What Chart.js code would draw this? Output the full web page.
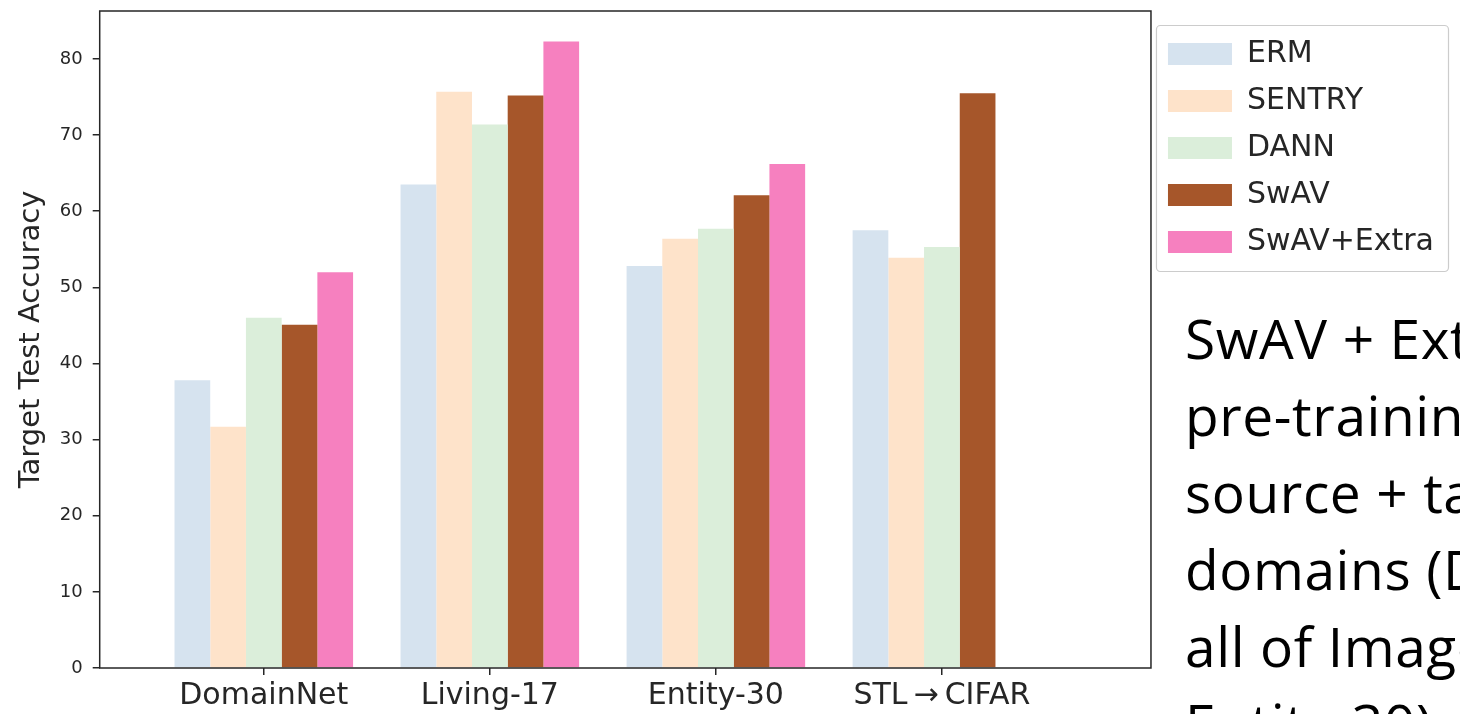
<!DOCTYPE html>
<html lang="en">
<head>
    <meta charset="UTF-8">
    <title>Target Test Accuracy</title>
    <script src="https://cdn.jsdelivr.net/npm/chart.js"></script>
    <style>
        html, body { margin: 0; padding: 0; width: 1460px; height: 714px; overflow: hidden; background: #fff; }
        #accChart { position: absolute; left: 0; top: 0; }
        #note {
            position: absolute; left: 1185px; top: 299px;
            font-family: "Open Sans", sans-serif; font-size: 55px; line-height: 77px;
            letter-spacing: 0.6px; color: #000; white-space: nowrap;
        }
    </style>
</head>
<body>
    <canvas id="accChart" width="1460" height="714"></canvas>
    <div id="note">
        <div>SwAV + Extra</div>
        <div>pre-training on</div>
        <div>source + target</div>
        <div>domains (DomainNet,</div>
        <div>all of ImageNet for</div>
        <div>Entity-30)</div>
    </div>
    <script>
        // data
        const categories = ['DomainNet', 'Living-17', 'Entity-30', 'STL\u2009\u2192\u2009CIFAR'];
        const methods = ['ERM', 'SENTRY', 'DANN', 'SwAV', 'SwAV+Extra'];
        const erm = [37.8, 63.5, 52.8, 57.5];
        const sentry = [31.7, 75.7, 56.4, 53.9];
        const dann = [46.0, 71.4, 57.7, 55.3];
        const swav = [45.1, 75.2, 62.1, 75.5];
        const swavExtra = [52.0, 82.3, 66.2, null];

        const colors = ['#d6e3ef', '#fee3ca', '#dbeeda', '#a6562a', '#f680bf'];
        const series = [erm, sentry, dann, swav, swavExtra];

        const datasets = series.map((vals, k) => ({
            label: methods[k],
            backgroundColor: colors[k],
            borderWidth: 0,
            data: vals.map((v, i) => ({ x: i, y: v }))
        }));

        // frame round the plot and round the legend
        const framePlugin = {
            id: 'frame',
            afterDraw(chart) {
                const { ctx, chartArea: a } = chart;
                ctx.save();
                ctx.strokeStyle = '#262626';
                ctx.lineWidth = 1.5;
                ctx.strokeRect(a.left, a.top, a.right - a.left, a.bottom - a.top);

                const boxes = chart.legend.legendHitBoxes;
                if (boxes && boxes.length) {
                    const l = Math.min(...boxes.map(b => b.left)) - 12;
                    const t = Math.min(...boxes.map(b => b.top)) - 14;
                    const r = Math.max(...boxes.map(b => b.left + b.width)) + 14;
                    const bt = Math.max(...boxes.map(b => b.top + b.height)) + 14;
                    ctx.strokeStyle = '#cccccc';
                    ctx.lineWidth = 1.2;
                    ctx.beginPath();
                    ctx.roundRect(l + 0.5, t + 0.5, r - l, bt - t, 4);
                    ctx.stroke();
                }
                ctx.restore();
            }
        };

        const config = {
            type: 'bar',
            data: { datasets: datasets },
            options: {
                responsive: false,
                animation: false,
                devicePixelRatio: 1,
                layout: { padding: { top: 0, left: 14, right: 16, bottom: -3 } },
                datasets: { bar: { categoryPercentage: 0.79, barPercentage: 1.0 } },
                plugins: {
                    tooltip: { enabled: false },
                    legend: {
                        position: 'right',
                        align: 'start',
                        title: { display: true, text: '', font: { size: 1, lineHeight: 1 }, padding: { top: 21, bottom: 0 } },
                        labels: {
                            boxWidth: 64,
                            boxHeight: 22,
                            padding: 17,
                            color: '#262626',
                            font: { family: 'DejaVu Sans', size: 30 }
                        }
                    }
                },
                scales: {
                    x: {
                        type: 'linear',
                        min: -0.726,
                        max: 3.925,
                        offset: false,
                        afterBuildTicks: (scale) => {
                            scale.ticks = categories.map((c, i) => ({ value: i }));
                        },
                        grid: { display: true, offset: false, drawOnChartArea: false, drawTicks: true, tickLength: 7, color: '#262626', lineWidth: 1.5 },
                        border: { display: false },
                        ticks: {
                            autoSkip: false,
                            maxRotation: 0,
                            padding: 3,
                            color: '#262626',
                            font: { family: 'DejaVu Sans', size: 30 },
                            callback: (v) => categories[v]
                        }
                    },
                    y: {
                        min: 0,
                        max: 86.3,
                        afterFit: (scale) => { scale.paddingTop = 11; },
                        grid: { display: true, drawOnChartArea: false, drawTicks: true, tickLength: 7, color: '#262626', lineWidth: 1.5 },
                        border: { display: false },
                        ticks: {
                            stepSize: 10,
                            includeBounds: false,
                            padding: 10,
                            color: '#262626',
                            font: { family: 'DejaVu Sans', size: 18 }
                        },
                        title: {
                            display: true,
                            text: 'Target Test Accuracy',
                            color: '#262626',
                            padding: { top: 0, bottom: 1 },
                            font: { family: 'DejaVu Sans', size: 29 }
                        }
                    }
                }
            },
            plugins: [framePlugin]
        };

        const chart = new Chart(document.getElementById('accChart'), config);
    </script>
</body>
</html>
